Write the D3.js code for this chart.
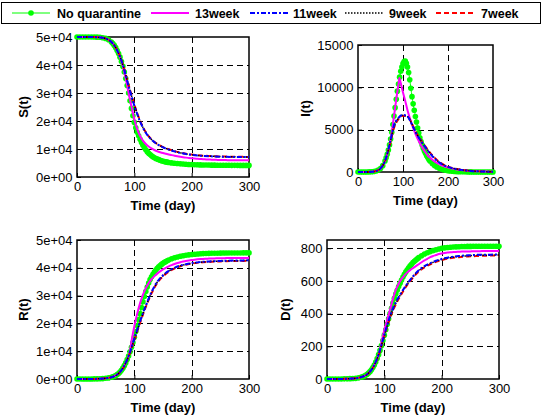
<!DOCTYPE html>
<html>
<head>
<meta charset="utf-8">
<script src="https://cdn.jsdelivr.net/npm/d3@7"></script>
<style>
body { margin: 0; background: #fff; }
svg { display: block; font-family: Arial, 'Liberation Sans', sans-serif; }
</style>
</head>
<body>
<svg id="chart" width="544" height="419"></svg>
<script>
// sample days
let daysNo = [0,5,10,15,20,25,30,35,40,45,50,55,
	60,62.5,65,67.5,70,72.5,75,77.5,80,82.5,85,87.5,90,92.5,95,97.5,100,102.5,105,107.5,110,112.5,115,117.5,
	120,122.5,125,127.5,130,132.5,135,137.5,140,142.5,145,147.5,150,152.5,155,157.5,160,
	165,170,175,180,185,190,195,200,205,210,215,220,225,230,235,240,245,250,255,260,265,270,275,280,285,290,295,300]
let daysMag = [0,5,10,15,20,25,30,35,40,45,50,55,60,65,70,75,80,85,90,92,95,100,105,110,115,120,125,130,135,140,145,150,
	155,160,165,170,175,180,185,190,195,200,205,210,215,220,225,230,235,240,245,250,255,260,265,270,275,280,285,290,295,300]
let days10 = [0,10,20,30,40,50,60,70,80,90,100,110,120,130,140,150,160,170,180,190,200,210,220,230,240,250,260,270,280,290,300]

// No quarantine (daysNo)
let noS = [50000,50000,50000,50000,50000,49990,49980,49950,49900,49750,49500,49000,
	48200,47650,47000,46200,45200,44100,42800,41250,39500,37500,35200,32700,30000,27200,24500,21900,19500,17600,16000,14700,13500,12350,11300,10450,
	9700,9050,8500,8030,7600,7230,6900,6630,6400,6190,6000,5820,5650,5520,5400,5300,5200,
	5030,4900,4800,4700,4620,4550,4490,4440,4400,4360,4330,4300,4280,4260,4240,4225,4210,4200,4190,4180,4170,4165,4160,4155,4150,4145,4140,4140]
let noI = [0,1,2,4,8,15,30,60,120,230,420,750,
	1300,1680,2100,2600,3200,3900,4700,5600,6600,7600,8600,9550,10400,11200,11900,12400,12800,13050,13100,12850,12400,11750,10900,9900,
	8900,8050,7300,6550,5900,5200,4600,4050,3600,3180,2800,2480,2200,1930,1700,1490,1300,
	1000,780,600,460,350,270,200,150,115,88,67,50,38,29,22,17,13,10,8,6,4,3,2,2,1,1,1,1]
let noR = [0,0,5,10,15,25,35,55,90,150,250,400,
	650,810,1000,1260,1600,2000,2500,3150,3900,4800,5800,7000,8300,9800,11400,13150,15000,17050,19200,21350,23500,25700,27800,29700,
	31500,33100,34500,35750,36800,37700,38500,39200,39800,40320,40800,41220,41600,41940,42250,42540,42800,
	43250,43600,43900,44150,44350,44520,44660,44780,44880,44960,45030,45090,45140,45180,45210,45240,45260,45280,45300,45310,45320,45330,45340,45345,45350,45355,45360,45360]
let noD = [0,0,0,0,0,0,1,1,2,3,4,7,
	12,14,18,23,29,36,45,56,70,86,104,125,149,175,204,235,268,301,335,368,400,433,465,494,
	520,543,565,586,605,623,640,655,668,680,692,702,712,720,728,735,742,
	754,764,772,779,785,790,795,799,802,804,806,807,808,809,810,810,811,811,812,812,812,812,812,812,812,812,812,812]

// 13week (daysMag)
let w13S = [50000,50000,50000,50000,50000,49990,49980,49950,49900,49750,49500,49000,48200,47000,45200,42800,39500,35200,30000,28000,
	25200,20600,17100,14700,13000,11800,10900,10200,9650,9200,8850,8550,8300,8050,7820,7600,7400,7220,7060,6920,6800,6690,
	6590,6500,6420,6350,6290,6240,6190,6150,6110,6080,6050,6030,6010,5990,5980,5970,5960,5955,5950,5950]
let w13I = [0,1,2,4,8,15,30,60,120,230,420,750,1300,2100,3200,4700,6600,8600,10400,11100,
	10500,9400,8400,7300,6400,5600,4850,4200,3650,3150,2700,2300,1950,1700,1450,1250,1080,950,820,710,610,530,
	460,400,345,300,260,225,195,170,148,128,112,97,85,74,64,56,49,43,37,32]
let w13R = [0,0,5,10,15,25,35,55,90,150,250,400,650,1000,1600,2500,3900,5800,8300,9800,
	13500,19000,23500,27300,30300,32700,34500,35900,37000,37900,38700,39400,40000,40500,40950,41350,41700,42000,42250,42470,42650,42800,
	42930,43040,43130,43200,43260,43310,43350,43390,43420,43450,43470,43490,43510,43520,43530,43540,43550,43560,43565,43570]
let w13D = [0,0,0,0,0,0,1,1,2,3,4,7,12,18,29,45,70,104,149,175,
	225,300,362,425,490,545,583,612,634,652,666,678,690,702,714,725,735,745,752,758,764,768,
	771,773,775,776,777,778,779,779,780,780,781,781,781,782,782,782,782,782,782,782]

// 11week (days10)
let w11S = [50000,50000,49990,49960,49850,49450,48200,45300,40000,32500,25500,19800,15800,13300,11700,10600,
	9800,9150,8600,8200,7900,7700,7550,7430,7340,7270,7220,7180,7150,7130,7110]
let w11I = [1,2,8,30,120,420,1300,3200,5500,6400,6750,6550,5600,4500,3650,2900,
	2200,1600,1150,820,600,450,330,250,180,130,95,70,50,36,26]
let w11R = [0,5,15,35,90,250,650,1600,3900,8300,14500,20700,26400,31300,35000,37300,
	38900,40000,40800,41300,41700,41950,42150,42300,42400,42480,42540,42590,42630,42660,42680]
let w11D = [0,0,0,1,2,4,12,29,70,150,270,385,468,530,583,628,
	665,690,708,723,734,742,748,752,755,757,759,760,760,761,761]

// 9week (days10)
let w9S = [50000,50000,49990,49960,49850,49450,48200,45300,40100,32700,25700,20000,15900,13400,11750,10650,
	9850,9200,8650,8250,7950,7740,7580,7460,7370,7300,7250,7210,7180,7160,7140]
let w9I = [1,2,8,30,120,420,1300,3150,5400,6350,6700,6550,5650,4550,3700,2950,
	2250,1650,1180,850,620,460,340,255,185,135,98,72,52,37,27]
let w9R = [0,5,15,35,90,250,650,1600,3850,8200,14300,20500,26200,31100,34800,37150,
	38800,39900,40700,41220,41620,41880,42080,42230,42330,42410,42470,42520,42560,42590,42610]
let w9D = [0,0,0,1,2,4,12,29,69,148,266,380,463,526,580,625,
	662,687,705,720,731,739,745,749,752,754,756,757,757,758,758]

// 7week (days10)
let w7S = [50000,50000,49990,49960,49850,49450,48200,45400,40300,32900,25900,20100,16000,13450,11800,10700,
	9900,9250,8700,8300,8000,7780,7620,7500,7400,7330,7280,7240,7210,7190,7170]
let w7I = [1,2,8,30,120,420,1250,3000,5200,6250,6650,6550,5700,4600,3750,3000,
	2300,1700,1220,880,640,470,350,260,190,140,100,74,54,38,28]
let w7R = [0,5,15,35,90,250,640,1550,3750,8000,14000,20200,25900,30800,34500,36900,
	38600,39750,40550,41100,41500,41770,41970,42120,42230,42310,42370,42420,42460,42490,42510]
let w7D = [0,0,0,1,2,4,12,28,67,144,260,373,456,520,575,620,
	657,683,701,716,727,735,741,745,748,750,752,753,754,755,755]

let legendNames = ['No quarantine', '13week', '11week', '9week', '7week']
let xTicks = [0, 100, 200, 300]
let sciTicks = [0, 10000, 20000, 30000, 40000, 50000]
let sciLabels = ['0e+00', '1e+04', '2e+04', '3e+04', '4e+04', '5e+04']
let iTicks = [0, 5000, 10000, 15000]
let iLabels = ['0', '5000', '10000', '15000']
let dTicks = [0, 200, 400, 600, 800]
let dLabels = ['0', '200', '400', '600', '800']

document.addEventListener('DOMContentLoaded', function() {
	const svg = d3.select('#chart')

	const styles = [
		{color: '#00ff00', width: 1, dash: null},
		{color: '#ff00ff', width: 2, dash: null},
		{color: '#0000ff', width: 2, dash: '5,2,2,2'},
		{color: '#000000', width: 1.5, dash: '1.5,1.5'},
		{color: '#ff0000', width: 2, dash: '5,3'}
	]

	const panels = [
		{title: 'S(t)', x: [77, 249], y: [37, 177], ymax: 50000, ticks: sciTicks, labels: sciLabels, tx: 23,
			series: [noS, w13S, w11S, w9S, w7S]},
		{title: 'I(t)', x: [358, 493], y: [45, 172], ymax: 15000, ticks: iTicks, labels: iLabels, tx: 305,
			series: [noI, w13I, w11I, w9I, w7I]},
		{title: 'R(t)', x: [77, 249], y: [240, 379], ymax: 50000, ticks: sciTicks, labels: sciLabels, tx: 23,
			series: [noR, w13R, w11R, w9R, w7R]},
		{title: 'D(t)', x: [327, 499], y: [240, 379], ymax: 850, ticks: dTicks, labels: dLabels, tx: 285,
			series: [noD, w13D, w11D, w9D, w7D]}
	]
	const dayArrays = [daysNo, daysMag, days10, days10, days10]
	// draw order: green, magenta, red, black, blue on top
	const order = [0, 1, 4, 3, 2]

	panels.forEach(p => {
		const x = d3.scaleLinear().domain([0, 300]).range(p.x)
		const y = d3.scaleLinear().domain([0, p.ymax]).range([p.y[1], p.y[0]])
		const g = svg.append('g')

		// grid
		g.selectAll('.vgrid').data(xTicks.slice(1, -1)).enter().append('line')
			.attr('x1', d => Math.round(x(d)) + 0.5).attr('x2', d => Math.round(x(d)) + 0.5)
			.attr('y1', p.y[0]).attr('y2', p.y[1])
			.attr('stroke', '#000').attr('stroke-dasharray', '6,4')
		g.selectAll('.hgrid').data(p.ticks.filter(d => d > 0 && d < p.ymax)).enter().append('line')
			.attr('x1', p.x[0]).attr('x2', p.x[1])
			.attr('y1', d => Math.round(y(d)) + 0.5).attr('y2', d => Math.round(y(d)) + 0.5)
			.attr('stroke', '#000').attr('stroke-dasharray', '6,4')

		// axes
		const xAxis = d3.axisBottom(x).tickValues(xTicks).tickSize(-4).tickPadding(5)
		const yAxis = d3.axisLeft(y).tickValues(p.ticks).tickSize(-4).tickPadding(4.5)
			.tickFormat((d, i) => p.labels[i])
		const ga = g.append('g').attr('transform', `translate(0,${p.y[1]})`).call(xAxis)
		const gb = g.append('g').attr('transform', `translate(${p.x[0]},0)`).call(yAxis)
		;[ga, gb].forEach(a => {
			a.select('.domain').remove()
			a.attr('font-size', 13).attr('font-family', 'Arial, Liberation Sans, sans-serif')
			a.selectAll('text').attr('fill', '#000')
			a.selectAll('line').attr('stroke', '#000')
		})

		g.append('rect')
			.attr('x', p.x[0]).attr('y', p.y[0])
			.attr('width', p.x[1] - p.x[0]).attr('height', p.y[1] - p.y[0])
			.attr('fill', 'none').attr('stroke', '#000').attr('stroke-width', 1.5)

		// titles
		g.append('text')
			.attr('x', (p.x[0] + p.x[1]) / 2).attr('y', p.y[1] + 33)
			.attr('text-anchor', 'middle').attr('font-size', 13).attr('font-weight', 'bold')
			.text('Time (day)')
		g.append('text')
			.attr('transform', `translate(${p.tx},${(p.y[0] + p.y[1]) / 2}) rotate(-90)`)
			.attr('text-anchor', 'middle').attr('dy', '0.35em')
			.attr('font-size', 13).attr('font-weight', 'bold')
			.text(p.title)

		// data
		order.forEach(k => {
			const vals = p.series[k]
			const pts = dayArrays[k].map((d, i) => [d, vals[i]])
			const line = d3.line().x(d => x(d[0])).y(d => y(d[1])).curve(d3.curveMonotoneX)
			const st = styles[k]
			g.append('path')
				.attr('d', line(pts))
				.attr('fill', 'none')
				.attr('stroke', st.color)
				.attr('stroke-width', st.width)
				.attr('stroke-dasharray', st.dash)
			if (k == 0) {
				g.append('g').selectAll('circle').data(pts).enter().append('circle')
					.attr('cx', d => x(d[0])).attr('cy', d => y(d[1]))
					.attr('r', 2.8).attr('fill', st.color)
			}
		})
	})

	// legend
	const lg = svg.append('g')
	lg.append('rect').attr('x', 1.5).attr('y', 2.5).attr('width', 539).attr('height', 21)
		.attr('fill', '#fff').attr('stroke', '#000')
	const legPos = [[12, 50, 57], [151, 189, 195], [250, 289, 293], [345, 383, 389], [436, 474, 481]]
	legendNames.forEach((name, i) => {
		const st = styles[i]
		const [a, b, t] = legPos[i]
		lg.append('line').attr('x1', a).attr('x2', b).attr('y1', 13).attr('y2', 13)
			.attr('stroke', st.color).attr('stroke-width', st.width).attr('stroke-dasharray', st.dash)
		if (i == 0) {
			lg.append('circle').attr('cx', (a + b) / 2).attr('cy', 13).attr('r', 2.8).attr('fill', st.color)
		}
		lg.append('text').attr('x', t).attr('y', 17.5)
			.attr('font-size', 12.5).attr('font-weight', 'bold').text(name)
	})
})
</script>
</body>
</html>
